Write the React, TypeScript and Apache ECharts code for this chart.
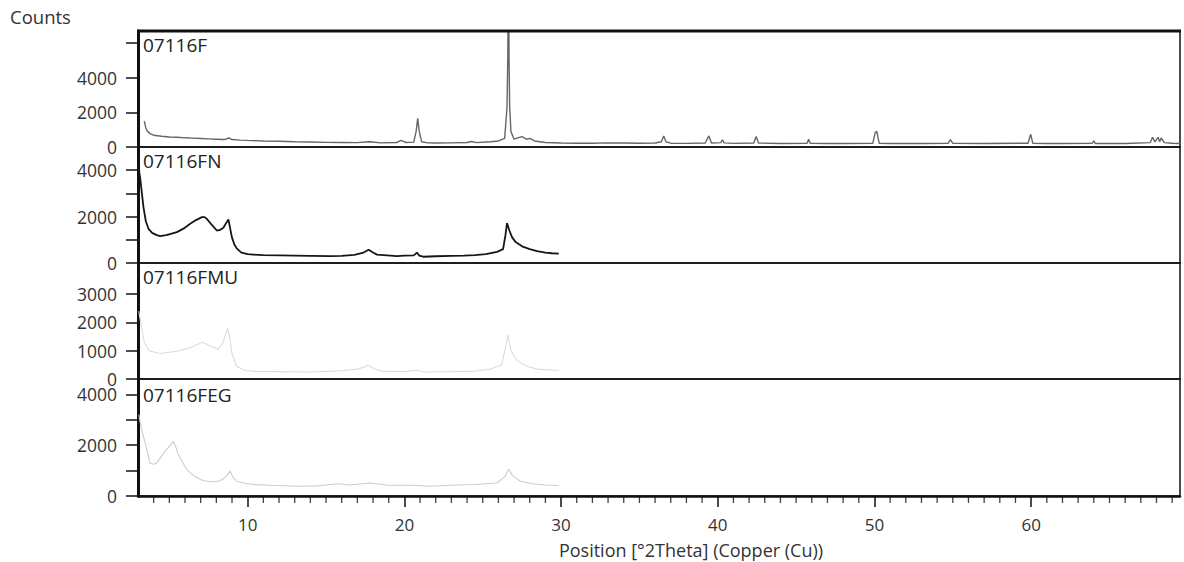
import React, { useEffect, useRef } from "react";
import * as echarts from "echarts";

const panelNames = ["07116F", "07116FN", "07116FMU", "07116FEG"];
const xMajorTicks = [10, 20, 30, 40, 50, 60];
const xMinorTicks = [4, 5, 6, 7, 8, 9, 11, 12, 13, 14, 15, 16, 17, 18, 19, 21, 22, 23, 24, 25, 26, 27, 28, 29, 31, 32, 33, 34, 35, 36, 37, 38, 39, 41, 42, 43, 44, 45, 46, 47, 48, 49, 51, 52, 53, 54, 55, 56, 57, 58, 59, 61, 62, 63, 64, 65, 66, 67, 68, 69];
const yMaxes = [6700, 5000, 4100, 4600];
const yTickValues = [
  [0, 2000, 4000, 6000],
  [0, 1000, 2000, 3000, 4000],
  [0, 1000, 2000, 3000],
  [0, 1000, 2000, 3000, 4000],
];
const yLabelValues = [
  [0, 2000, 4000],
  [0, 2000, 4000],
  [0, 1000, 2000, 3000],
  [0, 2000, 4000],
];

const pattern07116F = [
  [3.4, 1500], [3.5, 1100], [3.6, 900], [3.8, 760], [4.0, 680], [4.5, 620], [5.0, 580], [5.5, 560], [6.0, 530],
  [6.5, 510], [7.0, 490], [7.5, 470], [8.0, 450], [8.5, 430], [8.8, 520], [9.0, 430], [9.5, 400], [10, 380],
  [11, 350], [12, 330], [13, 300], [14, 290], [15, 270], [16, 260], [17, 250], [17.8, 300], [18.5, 240],
  [19.5, 260], [19.8, 380], [20.1, 260], [20.6, 280], [20.75, 900], [20.85, 1650], [20.95, 900], [21.1, 300],
  [21.5, 240], [22, 230], [23, 240], [24, 260], [24.3, 320], [24.6, 250], [25.5, 300], [26.0, 350], [26.4, 500],
  [26.55, 2300], [26.6, 5100], [26.64, 12000], [26.68, 5100], [26.72, 2300], [26.8, 900], [27.0, 450],
  [27.5, 600], [27.8, 450], [28.0, 500], [28.3, 350], [29, 260], [30, 230], [31, 220], [32, 220], [33, 240],
  [34, 230], [35, 220], [36, 230], [36.4, 300], [36.55, 640], [36.7, 300], [37, 220], [38, 210], [39.2, 230],
  [39.43, 640], [39.6, 230], [40.2, 250], [40.3, 420], [40.4, 240], [41, 210], [42.3, 230], [42.45, 600],
  [42.6, 230], [44, 200], [45.7, 220], [45.8, 450], [45.9, 220], [47, 200], [48, 200], [49.9, 220],
  [50.05, 850], [50.15, 900], [50.3, 220], [51, 200], [52, 200], [53, 200], [54.7, 210], [54.85, 420],
  [55, 210], [57, 200], [59.8, 220], [59.97, 740], [60.1, 220], [61, 200], [62, 200], [63.9, 220], [64.0, 350],
  [64.1, 200], [66, 200], [67.6, 250], [67.75, 560], [67.9, 300], [68.1, 560], [68.2, 300], [68.3, 520],
  [68.5, 250], [69, 220], [69.5, 200],
];

const pattern07116FN = [
  [3.03, 4150], [3.15, 3600], [3.25, 3000], [3.35, 2400], [3.5, 1800], [3.67, 1475], [3.9, 1300], [4.2, 1200],
  [4.41, 1160], [4.8, 1200], [5.1, 1260], [5.48, 1330], [5.9, 1480], [6.33, 1690], [6.7, 1850], [7.08, 1975],
  [7.25, 1980], [7.39, 1900], [7.7, 1650], [8.03, 1400], [8.25, 1430], [8.45, 1520], [8.65, 1750],
  [8.77, 1875], [8.85, 1600], [8.99, 1115], [9.15, 800], [9.31, 620], [9.6, 450], [10.0, 380], [10.37, 360],
  [11, 340], [12.08, 330], [13, 320], [14, 310], [15.27, 300], [16, 310], [16.8, 350], [17.4, 450],
  [17.72, 575], [18.0, 450], [18.25, 360], [19.53, 300], [20.0, 320], [20.6, 330], [20.8, 450], [20.95, 320],
  [21.2, 270], [22, 290], [23, 310], [23.78, 320], [24.5, 340], [25.2, 380], [25.91, 480], [26.3, 600],
  [26.45, 1200], [26.55, 1720], [26.7, 1400], [26.87, 1115], [27.1, 900], [27.51, 720], [28, 600],
  [28.47, 515], [29, 450], [29.4, 420], [29.85, 400],
];

const pattern07116FMU = [
  [3.05, 2400], [3.2, 1900], [3.4, 1300], [3.7, 1000], [4.4, 900], [5.5, 980], [6.3, 1100], [7.1, 1300],
  [7.7, 1150], [8.1, 1050], [8.4, 1250], [8.6, 1600], [8.72, 1800], [8.85, 1450], [9.0, 900], [9.3, 450],
  [9.8, 300], [10.5, 270], [12, 260], [14, 250], [15, 270], [16, 290], [17, 350], [17.5, 430], [17.7, 500],
  [18.0, 380], [18.5, 280], [20, 260], [20.8, 320], [21.2, 250], [23, 260], [24.5, 280], [25.5, 350],
  [26.2, 500], [26.45, 1100], [26.6, 1550], [26.8, 1000], [27.2, 650], [27.8, 450], [28.5, 350], [29.85, 300],
];

const pattern07116FEG = [
  [3.05, 3200], [3.2, 2700], [3.45, 2100], [3.77, 1290], [4.0, 1250], [4.2, 1300], [4.62, 1675], [5.0, 1950],
  [5.26, 2150], [5.4, 1950], [5.58, 1610], [6.12, 1030], [6.6, 780], [7.18, 600], [7.8, 560], [8.24, 600],
  [8.6, 750], [8.88, 980], [9.05, 750], [9.3, 580], [9.8, 500], [10.37, 450], [11.5, 420], [13.1, 385],
  [14.5, 400], [15.8, 480], [16.5, 430], [17.8, 510], [19, 420], [20.5, 420], [21.6, 385], [23, 420],
  [24.5, 450], [25.9, 510], [26.4, 750], [26.65, 1060], [26.9, 800], [27.4, 580], [28.2, 480], [29.0, 430],
  [29.85, 410],
];

const patterns = [pattern07116F, pattern07116FN, pattern07116FMU, pattern07116FEG];
const lineColors = ["#666666", "#161616", "#dcdcdc", "#cdcdcd"];
const lineWidths = [1.4, 1.8, 1.1, 1.1];

const gridTops = [31, 147, 263, 379];
const gridHeights = [116, 116, 116, 117];
const labelYs = [45, 161, 277, 395];
const FONT = "'Open Sans', 'Noto Sans', sans-serif";
const TEXT = "#333";

export default function App() {
  const ref = useRef<HTMLDivElement>(null);
  useEffect(() => {
    if (!ref.current) return;
    const chart = echarts.init(ref.current, undefined, { renderer: "svg" });
    const grids = gridTops.map((top, i) => ({
      left: 138,
      right: 4,
      top,
      height: gridHeights[i],
      show: true,
      borderColor: "#111",
      borderWidth: 1.5,
      backgroundColor: "transparent",
    }));
    const xAxes: any[] = [0, 1, 2].map((i) => ({
      type: "value",
      gridIndex: i,
      min: 3,
      max: 69.5,
      show: false,
    }));
    xAxes.push({
      type: "value",
      gridIndex: 3,
      min: 3,
      max: 69.5,
      position: "bottom",
      axisLine: { show: true, lineStyle: { color: "#111", width: 2.5 } },
      axisTick: { show: true, customValues: xMajorTicks, length: 11, lineStyle: { color: "#111", width: 1.5 } },
      axisLabel: {
        customValues: xMajorTicks,
        margin: 20,
        fontSize: 17,
        color: TEXT,
        fontFamily: FONT,
        formatter: (v: number) => String(v),
      },
      splitLine: { show: false },
    });
    const yAxes = yMaxes.map((mx, i) => ({
      type: "value",
      gridIndex: i,
      min: 0,
      max: mx,
      axisLine: { show: true, lineStyle: { color: "#111", width: 3 } },
      axisTick: { show: true, customValues: yTickValues[i], length: 12, lineStyle: { color: "#111", width: 1.5 } },
      axisLabel: {
        customValues: yLabelValues[i],
        margin: 21,
        fontSize: 17.5,
        color: TEXT,
        fontFamily: FONT,
        formatter: (v: number) => String(v),
      },
      splitLine: { show: false },
    }));
    const series: any[] = patterns.map((data, i) => ({
      type: "line",
      xAxisIndex: i,
      yAxisIndex: i,
      data,
      showSymbol: false,
      symbol: "none",
      clip: true,
      lineStyle: { color: lineColors[i], width: lineWidths[i] },
      z: 3,
    }));
    series.push({
      type: "scatter",
      xAxisIndex: 3,
      yAxisIndex: 3,
      data: xMinorTicks.map((v) => [v, 0]),
      symbol: "rect",
      symbolSize: [1.3, 6],
      symbolOffset: [0, 4],
      clip: false,
      silent: true,
      itemStyle: { color: "#111" },
      z: 5,
    });
    const graphic: any[] = [
      {
        type: "text",
        left: 10,
        top: 7,
        style: { text: "Counts", fontSize: 18.5, fill: TEXT, fontFamily: FONT },
      },
      {
        type: "text",
        x: 691,
        y: 550,
        style: {
          text: "Position [°2Theta] (Copper (Cu))",
          fontSize: 18,
          fill: TEXT,
          fontFamily: FONT,
          textAlign: "center",
          textVerticalAlign: "middle",
        },
      },
      {
        type: "line",
        shape: { x1: 137, y1: 31, x2: 1181, y2: 31 },
        style: { stroke: "#111", lineWidth: 3 },
        z: 10,
      },
    ];
    panelNames.forEach((name, i) => {
      graphic.push({
        type: "text",
        x: 143,
        y: labelYs[i],
        style: {
          text: name,
          fontSize: 19,
          fill: "#222",
          fontFamily: FONT,
          textAlign: "left",
          textVerticalAlign: "middle",
        },
        z: 10,
      });
    });
    chart.setOption({
      animation: false,
      backgroundColor: "#ffffff",
      grid: grids,
      xAxis: xAxes,
      yAxis: yAxes,
      series,
      graphic,
    });
    return () => chart.dispose();
  }, []);
  return (
    <div
      ref={ref}
      style={{ position: "absolute", left: 0, top: 0, width: 1184, height: 562 }}
    />
  );
}
